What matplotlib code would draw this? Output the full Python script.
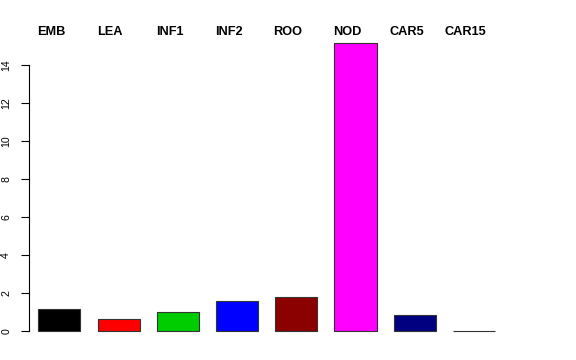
import numpy as np
import matplotlib.pyplot as plt
import matplotlib.transforms as mtransforms

plt.rcParams['font.family'] = ['Liberation Sans', 'DejaVu Sans']

tissues = ['EMB', 'LEA', 'INF1', 'INF2', 'ROO', 'NOD', 'CAR5', 'CAR15']
values = [1.17, 0.64, 1.01, 1.58, 1.79, 15.14, 0.83, 0.02]
colors = ['black', 'red', '#00CD00', 'blue', '#8B0000', 'magenta', '#000080', '#AAAAAA']

W, H = 576, 360
fig = plt.figure(figsize=(W / 100, H / 100), dpi=100)
# axes placed in pixel units to mimic the R barplot region
px_unit = 19.0      # pixels per y unit
y0_px = 331         # pixel row of y=0
left, right, bottom, top = 29, 560, 343, 30
ax = fig.add_axes([left / W, 1 - bottom / H, (right - left) / W, (bottom - top) / H])

x = np.arange(len(tissues))
step = 59.24
ax.bar(x, values, width=0.709, color=colors, edgecolor='#333333', linewidth=0.8)
ax.set_xlim(-(59.3 - left) / step, (right - 59.3) / step)
ax.set_ylim(-(bottom - y0_px) / px_unit, (y0_px - top) / px_unit)

for s in ['top', 'right', 'bottom']:
    ax.spines[s].set_visible(False)
ax.spines['left'].set_bounds(0, 14)
ax.spines['left'].set_linewidth(0.8)
ax.set_xticks([])
ax.set_yticks(np.arange(0, 15, 2))
ax.tick_params(axis='y', length=5.8, width=0.8, labelsize=7.6, pad=7)
for lab in ax.get_yticklabels():
    lab.set_rotation(90)
    lab.set_va('center')

trans = mtransforms.blended_transform_factory(ax.transData, fig.transFigure)
for xi, name in zip(x, tissues):
    ax.text(xi - 0.14, 1 - 31.7 / H, name, transform=trans,
            ha='center', va='center', fontsize=9.2, fontweight='bold')

fig.savefig('out.png', dpi=100)
